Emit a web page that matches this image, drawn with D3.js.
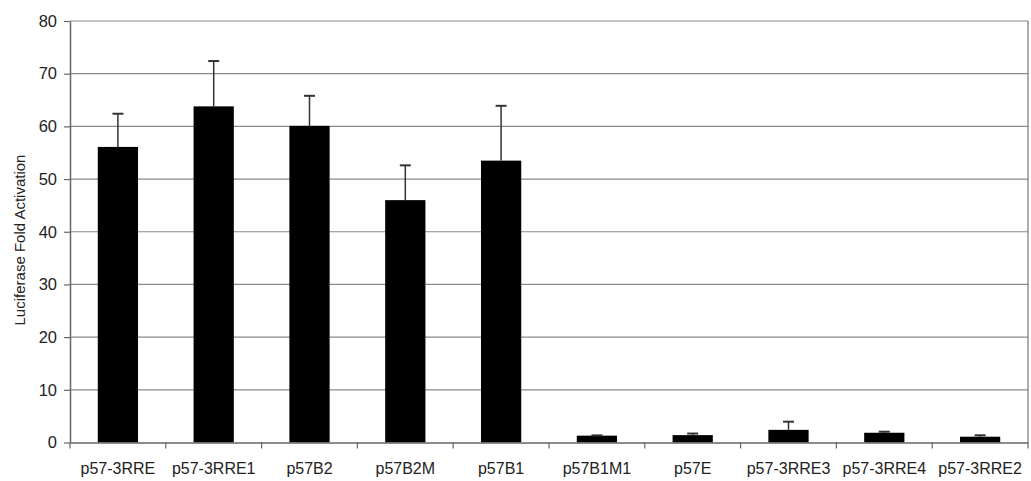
<!DOCTYPE html>
<html>
<head>
<meta charset="utf-8">
<script src="https://cdn.jsdelivr.net/npm/d3@7"></script>
<style>
  body { margin: 0; background: #fff; }
  text { font-family: "Liberation Sans", Arial, sans-serif; fill: #222; }
</style>
</head>
<body>
<div id="chart"></div>
<script>
// data
let categories = ["p57-3RRE", "p57-3RRE1", "p57B2", "p57B2M", "p57B1",
                  "p57B1M1", "p57E", "p57-3RRE3", "p57-3RRE4", "p57-3RRE2"];
let values = [56.1, 63.8, 60.1, 46.0, 53.5, 1.3, 1.4, 2.4, 1.85, 1.1];
let errors = [6.3, 8.6, 5.7, 6.6, 10.4, 0.05, 0.3, 1.55, 0.2, 0.27];
let yTicks = [0, 10, 20, 30, 40, 50, 60, 70, 80];

let svgWidth = 1031;
let svgHeight = 481;
let margin = { top: 21, right: 3, bottom: 38.5, left: 70 };
let chartWidth = svgWidth - margin.left - margin.right;
let chartHeight = svgHeight - margin.top - margin.bottom;

let svg = d3.select("#chart")
  .append("svg")
  .attr("width", svgWidth)
  .attr("height", svgHeight);

let chartGroup = svg.append("g")
  .attr("transform", `translate(${margin.left}, ${margin.top})`);

let xBandScale = d3.scaleBand()
  .domain(categories)
  .range([0, chartWidth])
  .padding(0);

let yLinearScale = d3.scaleLinear()
  .domain([0, 80])
  .range([chartHeight, 0]);

let barWidth = xBandScale.bandwidth() * 0.42;

// horizontal gridlines
chartGroup.selectAll(".grid")
  .data(yTicks.filter(d => d > 0))
  .enter()
  .append("line")
  .attr("x1", 0)
  .attr("x2", chartWidth)
  .attr("y1", d => yLinearScale(d))
  .attr("y2", d => yLinearScale(d))
  .attr("stroke", "#8a8a8a")
  .attr("stroke-width", 1.2);

// right border of plot area
chartGroup.append("line")
  .attr("x1", chartWidth).attr("x2", chartWidth)
  .attr("y1", 0).attr("y2", chartHeight)
  .attr("stroke", "#777")
  .attr("stroke-width", 1.2);

// bars
chartGroup.selectAll(".bar")
  .data(values)
  .enter()
  .append("rect")
  .attr("class", "bar")
  .attr("x", (d, i) => xBandScale(categories[i]) + (xBandScale.bandwidth() - barWidth) / 2)
  .attr("y", d => yLinearScale(d))
  .attr("width", barWidth)
  .attr("height", d => chartHeight - yLinearScale(d))
  .attr("fill", "#000");

// error bars (upper only)
let errGroup = chartGroup.selectAll(".err")
  .data(values)
  .enter()
  .append("g")
  .attr("class", "err")
  .attr("transform", (d, i) => `translate(${xBandScale(categories[i]) + xBandScale.bandwidth() / 2}, 0)`);

errGroup.append("line")
  .attr("x1", 0).attr("x2", 0)
  .attr("y1", d => yLinearScale(d))
  .attr("y2", (d, i) => yLinearScale(d + errors[i]))
  .attr("stroke", "#333")
  .attr("stroke-width", 1.5);

errGroup.append("line")
  .attr("x1", -5.5).attr("x2", 5.5)
  .attr("y1", (d, i) => yLinearScale(d + errors[i]))
  .attr("y2", (d, i) => yLinearScale(d + errors[i]))
  .attr("stroke", "#333")
  .attr("stroke-width", 2);

// y axis
let leftAxis = d3.axisLeft(yLinearScale)
  .tickValues(yTicks)
  .tickSize(6)
  .tickPadding(7)
  .tickSizeOuter(0);

let yAxisG = chartGroup.append("g").call(leftAxis);
yAxisG.select(".domain").attr("stroke", "#666").attr("stroke-width", 1.5);
yAxisG.selectAll(".tick line").attr("stroke", "#666").attr("stroke-width", 1.2);
yAxisG.selectAll(".tick text")
  .style("font-size", "16.5px")
  .attr("fill", "#222");

// x axis
let bottomAxis = d3.axisBottom(xBandScale)
  .tickSize(0)
  .tickPadding(20)
  .tickSizeOuter(0);

let xAxisG = chartGroup.append("g")
  .attr("transform", `translate(0, ${chartHeight})`)
  .call(bottomAxis);
xAxisG.select(".domain").attr("stroke", "#666").attr("stroke-width", 1.5);
xAxisG.selectAll(".tick text")
  .style("font-size", "16px")
  .attr("fill", "#222");

// small ticks between categories
xAxisG.selectAll(".sep")
  .data(categories.concat([null]))
  .enter()
  .append("line")
  .attr("x1", (d, i) => i * xBandScale.step())
  .attr("x2", (d, i) => i * xBandScale.step())
  .attr("y1", 0)
  .attr("y2", 6)
  .attr("stroke", "#666")
  .attr("stroke-width", 1.2);

// y axis title
svg.append("text")
  .attr("transform", `translate(25, 240) rotate(-90)`)
  .attr("text-anchor", "middle")
  .style("font-size", "15px")
  .attr("fill", "#333")
  .text("Luciferase Fold Activation");
</script>
</body>
</html>
